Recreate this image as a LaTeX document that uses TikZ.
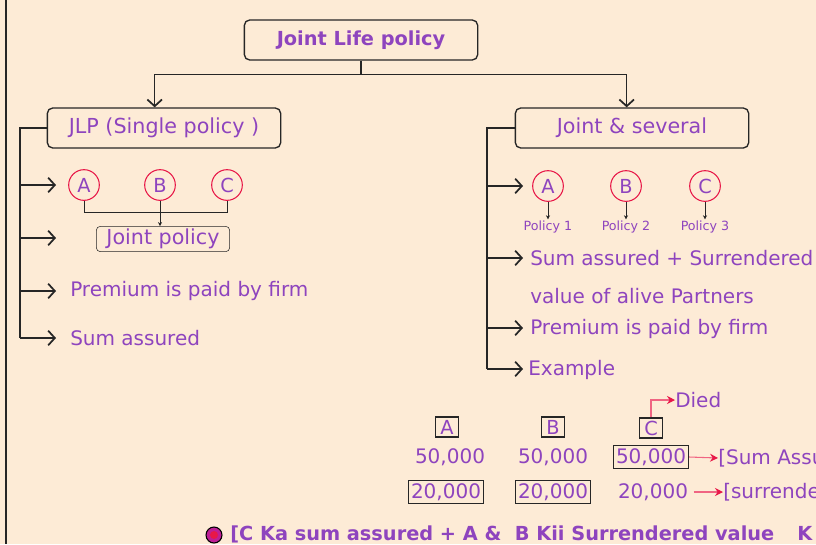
\documentclass[tikz,border=0pt]{standalone}
\usepackage{fontspec}
\setmainfont{DejaVu Sans}
\usetikzlibrary{arrows.meta}
\definecolor{mybg}{RGB}{253,235,214}
\definecolor{mypurple}{RGB}{142,68,190}
\definecolor{myred}{RGB}{232,24,72}
\definecolor{mypink}{RGB}{240,100,130}
\definecolor{mymagenta}{RGB}{190,30,150}

\begin{document}
\begin{tikzpicture}[x=0.75pt,y=-0.75pt,
  txt/.style={text=mypurple,font=\fontsize{15}{17}\selectfont,inner sep=0pt,anchor=west},
  headbox/.style={draw=black!85,line width=1pt,rounded corners=4pt,text=mypurple,
    minimum width=175pt,minimum height=30pt,font=\fontsize{15.5}{17}\selectfont},
  circ/.style={circle,draw=myred,thick,text=mypurple,minimum size=23pt,inner sep=0pt,
    font=\fontsize{14.5}{16}\selectfont},
  lbox/.style={draw=black!85,thick,text=mypurple,minimum width=17pt,minimum height=15pt,
    inner sep=0pt,font=\fontsize{14.5}{16}\selectfont},
  num/.style={text=mypurple,inner sep=2pt,font=\fontsize{15}{16}\selectfont},
  numbox/.style={num,draw=black!85,thick},
  trunk/.style={draw=black!85,line width=1pt},
  barb/.style={trunk,-{Straight Barb[length=5pt,width=11pt,line width=1.3pt]}},
  tip/.style={draw=black!85,-{Stealth[length=3pt,width=3pt]}},
  redarrow/.style={draw=mypink,thick,-{Stealth[length=6pt,width=6pt,color=myred]}}]

  % Background and left border
  \fill[mybg] (0,0) rectangle (816,544);
  \useasboundingbox (0,0) rectangle (816,544);
  \draw[black!85,line width=1.5pt] (6,0) -- (6,544);

  % Top level
  \node[headbox,font=\bfseries\fontsize{14.5}{16}\selectfont] (jl) at (361,40) {Joint Life policy};
  \node[headbox] (jlp) at (164,128) {JLP (Single policy )};
  \node[headbox] (js) at (632,128) {Joint \& several};
  \draw[trunk] (jl.south) -- ++(0,14) coordinate (split);
  \draw[barb] (split) -| ([xshift=-7pt]jlp.north);
  \draw[barb] (split) -| ([xshift=-4pt]js.north);

  % Left branch
  \draw[trunk] (jlp.west) -| (20,338);
  \foreach \y [count=\i] in {185,238,291,338} {
    \coordinate (lt\i) at (20,\y);
    \coordinate (lh\i) at (56,\y);
    \draw[barb] (lt\i) -- (lh\i);
  }
  \node[circ] (la) at (84,185) {A};
  \node[circ] (lb) at (160,185) {B};
  \node[circ] (lc) at (227,185) {C};
  \node[draw=black!85,rounded corners=3pt,text=mypurple,inner sep=2pt,
    minimum width=100pt,font=\fontsize{15.5}{16}\selectfont] (jp) at (163,239) {Joint policy};
  \draw[black!85] (la.south) -- ++(0,11) -| (lc.south);
  \draw[tip] (lb.south) -- (lb.south |- jp.north);
  \node[txt] (lp) at (70,291) {Premium is paid by firm};
  \node[txt] (ls) at (70,338) {Sum assured};

  % Right branch
  \draw[trunk] (js.west) -| (487,369);
  \foreach \y [count=\i] in {186,258,328,369} {
    \coordinate (rt\i) at (487,\y);
    \coordinate (rh\i) at (523,\y);
    \draw[barb] (rt\i) -- (rh\i);
  }
  \node[circ] (ra) at (548,186) {A};
  \node[circ] (rb) at (626,186) {B};
  \node[circ] (rc) at (705,186) {C};
  \foreach \c/\k/\x in {ra/1/548,rb/2/626,rc/3/705} {
    \node[text=mypurple,inner sep=1pt,font=\fontsize{9.5}{11}\selectfont] (p\k) at (\x,227) {Policy \k};
    \draw[tip] (\c.south) -- (p\k.north);
  }
  \node[txt] (rs) at (530,258) {Sum assured + Surrendered};
  \node[txt] (rv) at (530,296) {value of alive Partners};
  \node[txt] (rp) at (530,329) {Premium is paid by firm};
  \node[txt] (re) at (528,370) {Example};

  % Example
  \node[lbox] (ea) at (447,427) {A};
  \node[lbox] (eb) at (553,427) {B};
  \node[lbox] (ec) at (651,428) {C};
  \node[txt] (died) at (675,400) {Died};
  \draw[redarrow] (ec.north) |- (died.west);
  \node[num] (a50) at (450,457) {50,000};
  \node[num] (b50) at (553,457) {50,000};
  \node[numbox] (c50) at (651,457) {50,000};
  \node[txt] (sa) at (718,458) {[Sum Assu};
  \draw[redarrow] (c50.east) -- (sa.west);
  \node[numbox] (a20) at (446,492) {20,000};
  \node[numbox] (b20) at (553,492) {20,000};
  \node[num] (c20) at (653,492) {20,000};
  \node[txt] (sr) at (723,492) {[surrende};
  \draw[redarrow] ([xshift=2pt]c20.east) -- (sr.west);

  % Bottom note
  \node[circle,draw=black,thick,fill=mymagenta,minimum size=12pt,inner sep=0pt] (bd) at (214,535) {};
  \fill[myred] (bd) circle (3pt);
  \node[txt,font=\bfseries\fontsize{14.5}{16}\selectfont] (bl) at (230,534)
    {[C Ka sum assured + A \&\ \ B Kii Surrendered value\hspace{1.2em}K};
\end{tikzpicture}
\end{document}
